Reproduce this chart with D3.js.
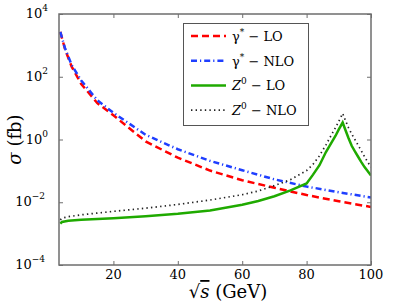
<!DOCTYPE html>
<html>
<head>
<meta charset="utf-8">
<script src="https://cdn.jsdelivr.net/npm/d3@7"></script>
<style>
  body { margin: 0; background: #fff; }
</style>
</head>
<body>
<div class="container"></div>
<script>
(function(){

    // sqrt(s) in GeV, and log10(sigma / fb)
    var xGamma = [3.5, 5, 7, 10, 15, 20, 30, 40, 50, 60, 70, 80, 90, 100];
    var gammaLO  = [3.43, 2.87, 2.33, 1.77, 1.16, 0.77, -0.06, -0.58, -0.99, -1.30, -1.54, -1.77, -1.97, -2.15];
    var gammaNLO = [3.43, 2.90, 2.38, 1.88, 1.25, 0.85, 0.15, -0.31, -0.68, -0.98, -1.27, -1.50, -1.68, -1.85];

    var xZ = [3.5, 4, 6, 10, 20, 30, 40, 50, 60, 65, 70, 75, 80, 82, 84, 86, 88, 89, 90, 91.2, 92, 93, 94, 95, 96, 97, 98, 99, 100];
    var zLO  = [-2.68, -2.63, -2.59, -2.56, -2.51, -2.45, -2.37, -2.26, -2.08, -1.96, -1.81, -1.62, -1.40, -1.12, -0.82, -0.40, -0.05, 0.12, 0.32, 0.54, 0.32, 0.05, -0.20, -0.38, -0.55, -0.72, -0.88, -1.01, -1.15];
    var zNLO = [-2.56, -2.51, -2.46, -2.40, -2.29, -2.19, -2.07, -1.93, -1.76, -1.64, -1.47, -1.28, -0.99, -0.79, -0.52, -0.17, 0.20, 0.38, 0.58, 0.83, 0.62, 0.38, 0.18, 0.00, -0.18, -0.36, -0.55, -0.72, -0.88];

    var xTicks = [20, 40, 60, 80, 100];
    var yExps = [-4, -2, 0, 2, 4];

    var series = [
      { name: "LO",  sym: "γ", sup: "*", x: xGamma, y: gammaLO,  color: "#ff0000", width: 2.5, dash: "7,4" },
      { name: "NLO", sym: "γ", sup: "*", x: xGamma, y: gammaNLO, color: "#1f3fff", width: 2.5, dash: "6,3,1.2,3" },
      { name: "LO",  sym: "Z", sup: "0", x: xZ, y: zLO,  color: "#1faa00", width: 2.5, dash: null },
      { name: "NLO", sym: "Z", sup: "0", x: xZ, y: zNLO, color: "#222222", width: 1.7, dash: "1.4,3.2" }
    ];

    var W = 415, H = 303;
    var left = 59, right = 371, top = 14, bottom = 265;
    var serif = "DejaVu Serif";

    var svg = d3.select(".container").append("svg")
        .attr("width", W)
        .attr("height", H)
        .attr("font-family", serif);

    var x = d3.scaleLinear().domain([3.1, 100]).range([left, right]);
    var y = d3.scaleLog().domain([1e-4, 1e4]).range([bottom, top]);

    svg.append("clipPath").attr("id", "clip")
      .append("rect").attr("x", left).attr("y", top)
      .attr("width", right - left).attr("height", bottom - top);

    var line = d3.line()
        .x(function(d) { return x(d[0]); })
        .y(function(d) { return y(Math.pow(10, d[1])); });

    var g = svg.append("g").attr("clip-path", "url(#clip)");
    series.forEach(function(s) {
      g.append("path")
        .datum(d3.zip(s.x, s.y))
        .attr("fill", "none")
        .attr("stroke", s.color)
        .attr("stroke-width", s.width)
        .attr("stroke-dasharray", s.dash)
        .attr("d", line);
    });

    // axes box with inward ticks on all sides
    var axisColor = "#6e6e6e";
    svg.append("rect")
      .attr("x", left).attr("y", top)
      .attr("width", right - left).attr("height", bottom - top)
      .attr("fill", "none").attr("stroke", axisColor).attr("stroke-width", 1.5);

    function styleAxis(a) {
      a.select(".domain").remove();
      a.selectAll("line").attr("stroke", axisColor).attr("stroke-width", 1);
      a.selectAll("text").remove();
    }
    var tickVals = yExps.map(function(e) { return Math.pow(10, e); });
    svg.append("g").attr("transform", "translate(0," + bottom + ")")
      .call(d3.axisTop(x).tickValues(xTicks).tickSize(4)).call(styleAxis);
    svg.append("g").attr("transform", "translate(0," + top + ")")
      .call(d3.axisBottom(x).tickValues(xTicks).tickSize(4)).call(styleAxis);
    svg.append("g").attr("transform", "translate(" + left + ",0)")
      .call(d3.axisRight(y).tickValues(tickVals).tickSize(4)).call(styleAxis);
    svg.append("g").attr("transform", "translate(" + right + ",0)")
      .call(d3.axisLeft(y).tickValues(tickVals).tickSize(4)).call(styleAxis);

    // tick labels
    svg.selectAll(".xlab").data(xTicks).enter().append("text")
      .attr("class", "xlab")
      .attr("x", function(d) { return x(d); })
      .attr("y", bottom + 14)
      .attr("text-anchor", "middle")
      .attr("font-size", 13)
      .text(function(d) { return d; });

    var ylab = svg.selectAll(".ylab").data(yExps).enter().append("text")
      .attr("class", "ylab")
      .attr("x", function(d) { return d < 0 ? 45 : 48; })
      .attr("y", function(d) { return y(Math.pow(10, d)) + 4; })
      .attr("text-anchor", "end")
      .attr("font-size", 13);
    ylab.append("tspan").text("10");
    ylab.append("tspan")
      .attr("dy", -7).attr("font-size", 9)
      .text(function(d) { return d < 0 ? "−" + (-d) : d; });

    // axis titles
    var yt = svg.append("text")
      .attr("transform", "translate(21," + ((top + bottom) / 2) + ") rotate(-90)")
      .attr("text-anchor", "middle")
      .attr("font-size", 18);
    yt.append("tspan").attr("font-style", "italic").text("σ");
    yt.append("tspan").text(" (fb)");

    var xt = svg.append("text")
      .attr("x", 228)
      .attr("y", 298)
      .attr("text-anchor", "middle")
      .attr("font-size", 18);
    xt.append("tspan").text("√");
    xt.append("tspan").attr("font-style", "italic")
      .attr("text-decoration", "overline").text("s");
    xt.append("tspan").text(" (GeV)");

    // legend
    var lg = svg.append("g");
    lg.append("rect")
      .attr("x", 183.5).attr("y", 23.5).attr("width", 125).attr("height", 102)
      .attr("fill", "#fff").attr("stroke", "#555").attr("stroke-width", 1);
    series.forEach(function(s, i) {
      var yy = 36 + i * 24.7;
      lg.append("line")
        .attr("x1", 191).attr("x2", 226).attr("y1", yy).attr("y2", yy)
        .attr("stroke", s.color).attr("stroke-width", s.width)
        .attr("stroke-dasharray", s.dash);
      var t = lg.append("text")
        .attr("x", 232).attr("y", yy + 5)
        .attr("font-size", 13);
      t.append("tspan").attr("font-style", s.sym === "Z" ? "italic" : "normal").text(s.sym);
      t.append("tspan").attr("dy", -6).attr("font-size", 9).text(s.sup);
      t.append("tspan").attr("dy", 6).text(" − " + s.name);
    });

})();
</script>
</body>
</html>
